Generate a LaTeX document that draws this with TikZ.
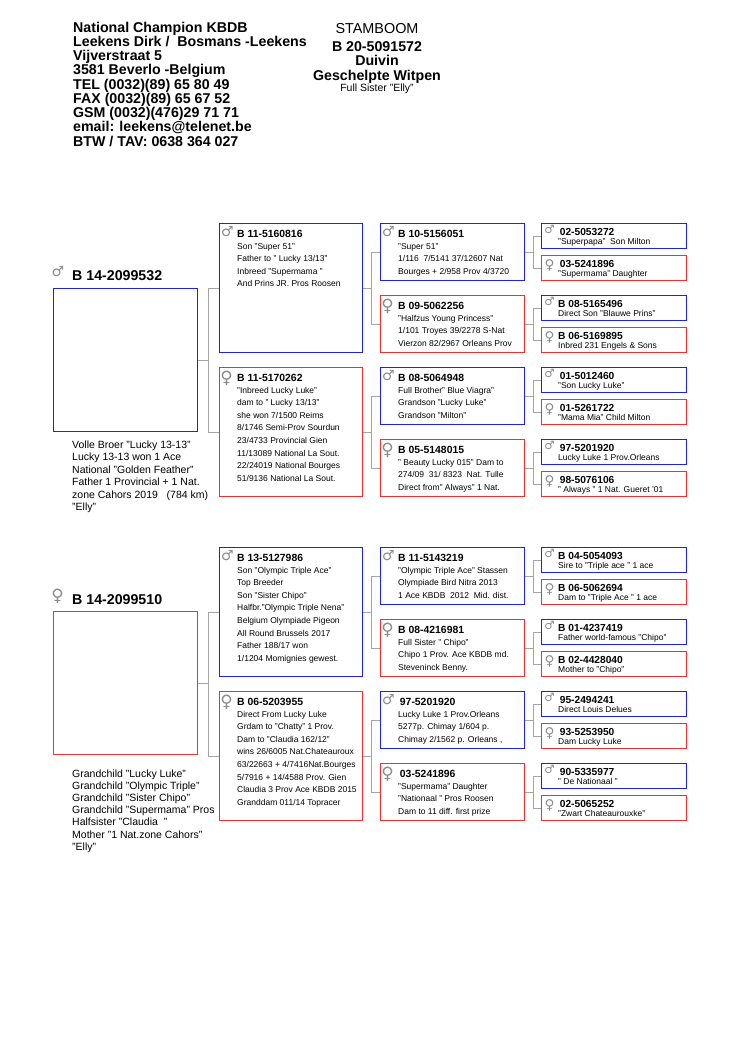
\documentclass[tikz,border=0pt]{standalone}
\usepackage{fontspec}
\setmainfont{Liberation Sans}
\newfontfamily\symfont{DejaVu Sans}
\usetikzlibrary{calc}
\definecolor{mblue}{RGB}{30,30,250}
\definecolor{fred}{RGB}{250,45,45}
\definecolor{lgray}{RGB}{165,165,165}
\definecolor{sgray}{RGB}{140,140,140}
\newcommand\symm{♂}
\newcommand\symf{♀}
\tikzset{
 box-m/.style={draw=mblue, line width=1.3pt, rectangle, inner sep=0pt, anchor=north west},
 box-f/.style={draw=fred, line width=1.3pt, rectangle, inner sep=0pt, anchor=north west},
 conn/.style={draw=lgray, line width=0.9pt},
 sym/.style={inner sep=0pt, text=sgray, font=\fontsize{14}{14}\symfont},
 sym-m/.style={sym, xshift=8.5pt, yshift=-9pt},
 sym-f/.style={sym, font=\fontsize{17}{17}\symfont, xshift=7.5pt, yshift=-11pt},
 ssym-m/.style={sym, font=\fontsize{11.5}{12}\symfont, xshift=8.5pt, yshift=-6pt},
 ssym-f/.style={sym, font=\fontsize{13.5}{14}\symfont, xshift=8.5pt, yshift=-10.5pt},
 ttl/.style={inner sep=0pt, anchor=base west, font=\fontsize{10.4}{12}\selectfont\bfseries},
 sttl/.style={inner sep=0pt, anchor=base west, font=\fontsize{10.2}{12}\selectfont\bfseries},
 det/.style={inner sep=0pt, anchor=base west, font=\fontsize{8.5}{10}\selectfont},
 hdr/.style={inner sep=0pt, anchor=base west, font=\fontsize{14.2}{16}\selectfont\bfseries},
 big/.style={inner sep=0pt, anchor=base west, font=\fontsize{14.2}{16}\selectfont\bfseries},
 note/.style={inner sep=0pt, anchor=base west, font=\fontsize{10.5}{12}\selectfont},
 ctr/.style={inner sep=0pt, anchor=base},
}
% name, m/f, x, y, width, height, title, lines
\newcommand\pedbox[8]{%
 \node[box-#2, minimum width=#5, minimum height=#6] (#1) at (#3,#4) {};
 \node[sym-#2] (#1s) at (#3,#4) {\csname sym#2\endcsname};
 \node[ttl] (#1t) at ({#3+18},{#4+14.5}) {#7};
 \foreach \l [count=\i] in {#8} {\node[det] (#1l\i) at ({#3+18},{#4+26+(\i-1)*12.6}) {\l};}
}
% name, m/f, x, y, title, sub
\newcommand\smallbox[6]{%
 \node[box-#2, minimum width=145, minimum height=25] (#1) at (#3,#4) {};
 \node[ssym-#2] (#1s) at (#3,#4) {\csname sym#2\endcsname};
 \node[sttl] (#1t) at ({#3+17},{#4+12.8}) {#5};
 \node[det] (#1u) at ({#3+17},{#4+21.3}) {#6};
}
\newcommand\fork[3]{%
 \coordinate (#1f) at ($(#1.east)!.5!(#2.west)$);
 \draw[conn] (#1.east) -- (#1.east -| #1f);
 \draw[conn] (#2.west) -- (#2.west -| #1f) -- (#3.west -| #1f) -- (#3.west);
}
\begin{document}
\begin{tikzpicture}[x=1pt,y=-1pt]
\fill[white] (0,0) rectangle (750,1063);
\useasboundingbox (0,0) rectangle (750,1063);

% header
\foreach \l [count=\i] in {National Champion KBDB, Leekens Dirk /\ \ Bosmans -Leekens, Vijverstraat 5, 3581 Beverlo -Belgium, TEL (0032)(89) 65 80 49, FAX (0032)(89) 65 67 52, GSM (0032)(476)29 71 71, email: leekens@telenet.be, BTW / TAV: 0638 364 027}
 {\node[hdr] (h\i) at (73,{32+(\i-1)*14.25}) {\l};}
\node[ctr, font=\fontsize{14.4}{16}\selectfont] (st1) at (377,33) {STAMBOOM};
\node[ctr, font=\fontsize{14.2}{16}\selectfont\bfseries] (st2) at (377,51) {B 20-5091572};
\node[ctr, font=\fontsize{14.2}{16}\selectfont\bfseries] (st3) at (377,65.5) {Duivin};
\node[ctr, font=\fontsize{14.2}{16}\selectfont\bfseries] (st4) at (377,80) {Geschelpte Witpen};
\node[ctr, font=\fontsize{10.5}{12}\selectfont] (st5) at (377,91) {Full Sister "Elly"};

% ===== top half =====
\node[box-m, minimum width=144, minimum height=143] (p1) at (53,288) {};
\node[sym, font=\fontsize{14}{14}\symfont] (p1s) at (58,272) {♂};
\node[big] (p1t) at (72,280) {B 14-2099532};
\foreach \l [count=\i] in {Volle Broer "Lucky 13-13", Lucky 13-13 won 1 Ace, National "Golden Feather", Father 1 Provincial + 1 Nat., zone Cahors 2019\ \ \ (784 km), "Elly"}
 {\node[note] (p1n\i) at (72,{448+(\i-1)*12.5}) {\l};}

\pedbox{a1}{m}{219}{223}{143}{129}{B 11-5160816}{{Son "Super 51"}, {Father to " Lucky 13/13"}, {Inbreed "Supermama "}, {And Prins JR. Pros Roosen}}
\pedbox{a2}{f}{219}{367}{143}{129}{B 11-5170262}{{"Inbreed Lucky Luke"}, {dam to " Lucky 13/13"}, {she won 7/1500 Reims}, {8/1746 Semi-Prov Sourdun}, {23/4733 Provincial Gien}, {11/13089 National La Sout.}, {22/24019 National Bourges}, {51/9136 National La Sout.}}

\pedbox{b1}{m}{380}{223}{144}{57}{B 10-5156051}{{"Super 51"}, {1/116\ \ 7/5141 37/12607 Nat}, {Bourges + 2/958 Prov 4/3720}}
\pedbox{b2}{f}{380}{295}{144}{57}{B 09-5062256}{{"Halfzus Young Princess"}, {1/101 Troyes 39/2278 S-Nat}, {Vierzon 82/2967 Orleans Prov}}
\pedbox{b3}{m}{380}{367}{144}{57}{B 08-5064948}{{Full Brother" Blue Viagra"}, {Grandson "Lucky Luke"}, {Grandson "Milton"}}
\pedbox{b4}{f}{380}{439}{144}{57}{B 05-5148015}{{" Beauty Lucky 015" Dam to}, {274/09\ \ 31/ 8323\ \ Nat. Tulle}, {Direct from" Always" 1 Nat.}}

\smallbox{c1}{m}{541}{223}{\,02-5053272}{"Superpapa"\ \ Son Milton}
\smallbox{c2}{f}{541}{255}{\,03-5241896}{"Supermama" Daughter}
\smallbox{c3}{m}{541}{295}{B 08-5165496}{Direct Son "Blauwe Prins"}
\smallbox{c4}{f}{541}{327}{B 06-5169895}{Inbred 231 Engels \& Sons}
\smallbox{c5}{m}{541}{367}{\,01-5012460}{"Son Lucky Luke"}
\smallbox{c6}{f}{541}{399}{\,01-5261722}{"Mama Mia" Child Milton}
\smallbox{c7}{m}{541}{439}{\,97-5201920}{Lucky Luke 1 Prov.Orleans}
\smallbox{c8}{f}{541}{471}{\,98-5076106}{" Always " 1 Nat. Gueret '01}

\fork{p1}{a1}{a2}
\fork{a1}{b1}{b2}
\fork{a2}{b3}{b4}
\fork{b1}{c1}{c2}
\fork{b2}{c3}{c4}
\fork{b3}{c5}{c6}
\fork{b4}{c7}{c8}

% ===== bottom half =====
\node[box-f, minimum width=144, minimum height=143] (p2) at (53,611) {};
\node[sym, font=\fontsize{17}{17}\symfont] (p2s) at (57.5,596) {♀};
\node[big] (p2t) at (72,604) {B 14-2099510};
\foreach \l [count=\i] in {Grandchild "Lucky Luke", Grandchild "Olympic Triple", Grandchild "Sister Chipo", Grandchild "Supermama" Pros, Halfsister "Claudia\ \ ", Mother "1 Nat.zone Cahors", "Elly"}
 {\node[note] (p2n\i) at (72,{777+(\i-1)*12.2}) {\l};}

\pedbox{d1}{m}{219}{547}{143}{129}{B 13-5127986}{{Son "Olympic Triple Ace"}, {Top Breeder}, {Son "Sister Chipo"}, {Halfbr."Olympic Triple Nena"}, {Belgium Olympiade Pigeon}, {All Round Brussels 2017}, {Father 188/17 won}, {1/1204 Momignies gewest.}}
\pedbox{d2}{f}{219}{691}{143}{129}{B 06-5203955}{{Direct From Lucky Luke}, {Grdam to "Chatty" 1 Prov.}, {Dam to "Claudia 162/12"}, {wins 26/6005 Nat.Chateauroux}, {63/22663 + 4/7416Nat.Bourges}, {5/7916 + 14/4588 Prov. Gien}, {Claudia 3 Prov Ace KBDB 2015}, {Granddam 011/14 Topracer}}

\pedbox{e1}{m}{380}{547}{144}{57}{B 11-5143219}{{"Olympic Triple Ace" Stassen}, {Olympiade Bird Nitra 2013}, {1 Ace KBDB\ \ 2012\ \ Mid. dist.}}
\pedbox{e2}{f}{380}{619}{144}{57}{B 08-4216981}{{Full Sister " Chipo"}, {Chipo 1 Prov. Ace KBDB md.}, {Steveninck Benny.}}
\pedbox{e3}{m}{380}{691}{144}{57}{\,97-5201920}{{Lucky Luke 1 Prov.Orleans}, {5277p. Chimay 1/604 p.}, {Chimay 2/1562 p. Orleans ,}}
\pedbox{e4}{f}{380}{763}{144}{57}{\,03-5241896}{{"Supermama" Daughter}, {"Nationaal " Pros Roosen}, {Dam to 11 diff. first prize}}

\smallbox{g1}{m}{541}{547}{B 04-5054093}{Sire to "Triple ace " 1 ace}
\smallbox{g2}{f}{541}{579}{B 06-5062694}{Dam to "Triple Ace " 1 ace}
\smallbox{g3}{m}{541}{619}{B 01-4237419}{Father world-famous "Chipo"}
\smallbox{g4}{f}{541}{651}{B 02-4428040}{Mother to "Chipo"}
\smallbox{g5}{m}{541}{691}{\,95-2494241}{Direct Louis Delues}
\smallbox{g6}{f}{541}{723}{\,93-5253950}{Dam Lucky Luke}
\smallbox{g7}{m}{541}{763}{\,90-5335977}{" De Nationaal "}
\smallbox{g8}{f}{541}{795}{\,02-5065252}{"Zwart Chateaurouxke"}

\fork{p2}{d1}{d2}
\fork{d1}{e1}{e2}
\fork{d2}{e3}{e4}
\fork{e1}{g1}{g2}
\fork{e2}{g3}{g4}
\fork{e3}{g5}{g6}
\fork{e4}{g7}{g8}
\end{tikzpicture}
\end{document}
